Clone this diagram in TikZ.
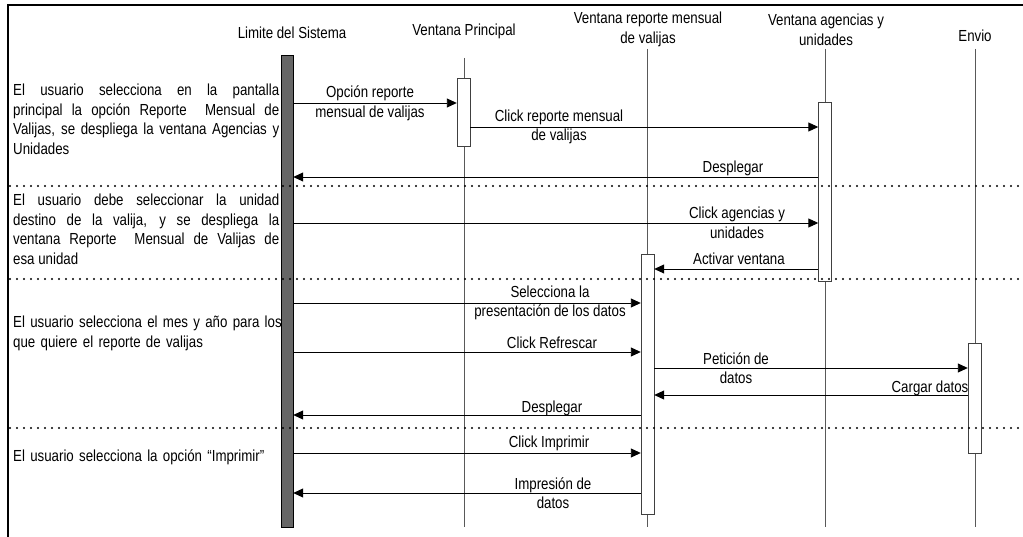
\documentclass[tikz,border=0pt]{standalone}
\usepackage{fontspec}
\setmainfont{Liberation Sans}[FakeStretch=0.83]
\usepackage{tikz}
\usetikzlibrary{arrows.meta, positioning}

\begin{document}
\begin{tikzpicture}[
    x=1pt, y=-1pt,
    every node/.style={font=\fontsize{16}{19.6}\selectfont, inner sep=0pt, text=black},
    head/.style={align=center},
    note/.style={text width=266pt, align=justify, anchor=north west},
    bar/.style={rectangle, draw=black, fill=black!60, minimum width=12pt},
    act/.style={rectangle, draw=black!75, fill=white, minimum width=13pt},
    lifeline/.style={draw=black!65, line width=0.9pt},
    msg/.style={-{Triangle[length=10pt, width=9pt]}, line width=0.9pt},
    lbl/.style={align=center},
    sep/.style={line width=2.3pt, line cap=round, dash pattern=on 0pt off 7pt},
]
\useasboundingbox (0,0) rectangle (1023,537);

% Frame
\draw[line width=1.2pt] (8,537) -- (8,5) -- (1023,5);

% Headers
\node[head] (hsys) at (292,33) {Limite del Sistema};
\node[head] (hprin) at (464,31) {Ventana Principal};
\node[head] (hrep) at (648,29.5) {Ventana reporte mensual\\de valijas};
\node[head] (hage) at (826,29.5) {Ventana agencias y\\unidades};
\node[head] (henv) at (975,36) {Envio};

% Lifelines
\draw[lifeline] (464,58) -- (464,527);
\draw[lifeline] (647.5,49) -- (647.5,527);
\draw[lifeline] (825,49) -- (825,527);
\draw[lifeline] (975,49) -- (975,527);

% System bar and activations
\node[bar, minimum height=472pt] (sys) at (287,291) {};
\node[act, minimum height=68pt] (prin) at (463.5,112) {};
\node[act, minimum height=179pt] (age) at (825,191.5) {};
\node[act, minimum height=260pt] (rep) at (647.5,384) {};
\node[act, minimum height=110pt] (env) at (974.5,398) {};

% Message rows
\coordinate (r1) at (0,103);
\coordinate (r2) at (0,127);
\coordinate (r3) at (0,177);
\coordinate (r4) at (0,223);
\coordinate (r5) at (0,269);
\coordinate (r6) at (0,303);
\coordinate (r7) at (0,352);
\coordinate (r8) at (0,368);
\coordinate (r9) at (0,395);
\coordinate (r10) at (0,415);
\coordinate (r11) at (0,453);
\coordinate (r12) at (0,493);

% Messages
\draw[msg] (sys.east |- r1) -- (prin.west |- r1);
\draw[msg] (prin.east |- r2) -- (age.west |- r2);
\draw[msg] (age.west |- r3) -- (sys.east |- r3);
\draw[msg] (sys.east |- r4) -- (age.west |- r4);
\draw[msg] (age.west |- r5) -- (rep.east |- r5);
\draw[msg] (sys.east |- r6) -- (rep.west |- r6);
\draw[msg] (sys.east |- r7) -- (rep.west |- r7);
\draw[msg] (rep.east |- r8) -- (env.west |- r8);
\draw[msg] (env.west |- r9) -- (rep.east |- r9);
\draw[msg] (rep.west |- r10) -- (sys.east |- r10);
\draw[msg] (sys.east |- r11) -- (rep.west |- r11);
\draw[msg] (rep.west |- r12) -- (sys.east |- r12);

% Message labels
\node[lbl] (l1) at (370,103) {Opción reporte\\mensual de valijas};
\node[lbl] (l2) at (559,127) {Click reporte mensual\\de valijas};
\node[lbl] (l3) at (733,168) {Desplegar};
\node[lbl] (l4) at (737,223) {Click agencias y\\unidades};
\node[lbl] (l5) at (739,259) {Activar ventana};
\node[lbl] (l6) at (550,303) {Selecciona la\\presentación de los datos};
\node[lbl] (l7) at (552,343) {Click Refrescar};
\node[lbl] (l8) at (736,368) {Petición de\\datos};
\node[lbl] (l9) at (930,388) {Cargar datos};
\node[lbl] (l10) at (552,408) {Desplegar};
\node[lbl] (l11) at (549,443) {Click Imprimir};
\node[lbl] (l12) at (553,493) {Impresión de\\datos};

% Steps on the left
\node[note] (n1) at (13,84) {El usuario selecciona en la pantalla\linebreak principal la opción Reporte\ \ Mensual de\linebreak Valijas, se despliega la ventana Agencias y\linebreak Unidades};
\node[note] (n2) at (13,194) {El usuario debe seleccionar la unidad\linebreak destino de la valija, y se despliega la\linebreak ventana Reporte\ \ Mensual de Valijas de\linebreak esa unidad};
\node[note, text width=276pt, align=left] (n3) at (13,316) {El usuario selecciona el mes y año para los\\que quiere el reporte de valijas};
\node[note, text width=276pt, align=left] (n4) at (13,450) {El usuario selecciona la opción “Imprimir”};

% Separators
\draw[sep] (10,186) -- (1023,186);
\draw[sep] (10,279) -- (1023,279);
\draw[sep] (10,428) -- (1023,428);
\end{tikzpicture}
\end{document}
